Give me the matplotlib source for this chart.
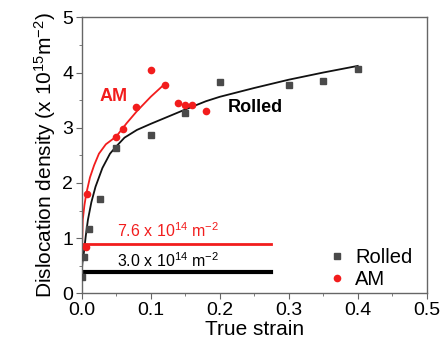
import numpy as np
import matplotlib
matplotlib.use("Agg")
import matplotlib.pyplot as plt
from matplotlib.ticker import MultipleLocator

plt.rcParams['font.family'] = ['Liberation Sans', 'DejaVu Sans']
plt.rcParams['mathtext.fontset'] = 'custom'
plt.rcParams['mathtext.rm'] = 'Liberation Sans'
plt.rcParams['mathtext.it'] = 'Liberation Sans:italic'
plt.rcParams['mathtext.bf'] = 'Liberation Sans:bold'

# measured points
rolled_x = [0.001, 0.003, 0.01, 0.026, 0.05, 0.1, 0.15, 0.2, 0.3, 0.35, 0.4]
rolled_y = [0.29, 0.65, 1.16, 1.70, 2.64, 2.86, 3.27, 3.82, 3.77, 3.84, 4.07]
am_x = [0.006, 0.007, 0.05, 0.06, 0.078, 0.1, 0.12, 0.14, 0.15, 0.16, 0.18]
am_y = [0.84, 1.80, 2.84, 2.97, 3.37, 4.04, 3.77, 3.45, 3.41, 3.41, 3.31]

# fitted curves
rolled_fit_x = [0, 0.001, 0.003, 0.006, 0.009, 0.014, 0.020, 0.030, 0.041, 0.05,
                0.062, 0.08, 0.1, 0.125, 0.15, 0.18, 0.2, 0.25, 0.3, 0.35, 0.4]
rolled_fit_y = [0.38, 0.55, 0.72, 1.05, 1.33, 1.65, 1.93, 2.27, 2.53, 2.66,
                2.82, 2.96, 3.07, 3.2, 3.33, 3.48, 3.56, 3.72, 3.87, 4.0, 4.12]
am_fit_x = [0, 0.0005, 0.0015, 0.004, 0.0067, 0.012, 0.018, 0.025, 0.035,
            0.05, 0.065, 0.08, 0.1, 0.12]
am_fit_y = [0.38, 0.8, 1.33, 1.6, 1.81, 2.1, 2.32, 2.53, 2.7,
            2.84, 3.08, 3.30, 3.56, 3.79]

# initial densities
am_init = 0.90
rolled_init = 0.38
init_end = 0.275

RED = '#f21d1d'
GREY = '#4a4a4a'

fig = plt.figure(figsize=(4.45, 3.47), dpi=100)
ax = fig.add_axes([0.1836, 0.1548, 0.9589 - 0.1836, 0.950 - 0.1548])

ax.plot(rolled_fit_x, rolled_fit_y, color='#111111', lw=1.3, zorder=2)
ax.plot(am_fit_x, am_fit_y, color=RED, lw=1.3, zorder=2)
ax.plot([0, init_end], [am_init, am_init], color=RED, lw=2.0, zorder=2)
ax.plot([0, init_end], [rolled_init, rolled_init], color='black', lw=3.0, zorder=2)

ax.plot(rolled_x, rolled_y, 's', color=GREY, ms=5, label='Rolled', zorder=3)
ax.plot(am_x, am_y, 'o', color=RED, ms=5.5, mec='none', label='AM', zorder=3)

ax.text(0.051, 1.02, '7.6 x 10$^{14}$ m$^{-2}$', color=RED, fontsize=11.5)
ax.text(0.051, 0.48, '3.0 x 10$^{14}$ m$^{-2}$', color='black', fontsize=11.5)
ax.text(0.026, 3.57, 'AM', color=RED, fontsize=13, fontweight='bold', va='center')
ax.text(0.211, 3.37, 'Rolled', color='black', fontsize=13, fontweight='bold', va='center')

ax.set_xlim(0, 0.5)
ax.set_ylim(0, 5)
ax.xaxis.set_major_locator(MultipleLocator(0.1))
ax.xaxis.set_minor_locator(MultipleLocator(0.05))
ax.yaxis.set_major_locator(MultipleLocator(1))
ax.yaxis.set_minor_locator(MultipleLocator(0.5))
ax.xaxis.set_major_formatter(plt.FuncFormatter(lambda v, p: '%.1f' % v))

for s in ax.spines.values():
    s.set_color('#666666')
    s.set_linewidth(1.0)
ax.tick_params(which='both', direction='out', color='#666666', top=False, right=False)
ax.tick_params(which='major', length=4, labelsize=14, pad=2)
ax.tick_params(which='minor', length=2.5)

ax.set_xlabel('True strain', fontsize=15, labelpad=1)
ax.set_ylabel('Dislocation density (x 10$^{15}$m$^{-2}$)', fontsize=15, labelpad=3)

ax.legend(loc='lower right', bbox_to_anchor=(1.0, -0.035), frameon=False, fontsize=14.5,
          handletextpad=0.3, labelspacing=0.15, handlelength=1.2, borderaxespad=0.3)

fig.savefig('out.png', dpi=100)
